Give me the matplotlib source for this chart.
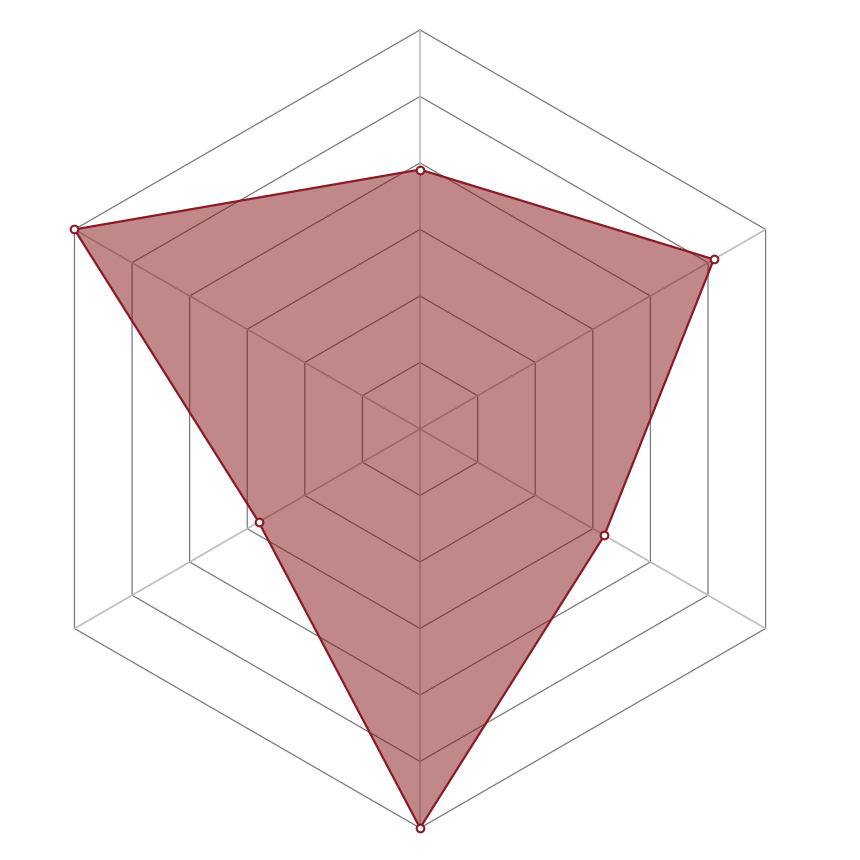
import numpy as np
import matplotlib.pyplot as plt

# eixos do radar (sem rotulos na figura original)
eixos = ['A', 'B', 'C', 'D', 'E', 'F']
valores = [3.9, 5.1, 3.2, 6.0, 2.8, 6.0]
niveis = [1, 2, 3, 4, 5, 6]
valor_max = 6

angulos = np.linspace(0, 2 * np.pi, len(eixos), endpoint=False)
angulos_fechado = np.append(angulos, angulos[0])
valores_fechado = valores + valores[:1]

fig = plt.figure(figsize=(8.6, 8.6), dpi=100)
ax = fig.add_axes([0.0244, 0.0372, 0.928, 0.928], projection='polar')
ax.set_theta_offset(np.pi / 2)
ax.set_theta_direction(-1)
ax.set_ylim(0, valor_max)
ax.grid(False)
ax.spines['polar'].set_visible(False)
ax.set_xticks([])
ax.set_yticks([])

# aneis hexagonais
for n in niveis:
    ax.plot(angulos_fechado, [n] * len(angulos_fechado), color='#7a7a7a', linewidth=0.9, zorder=1, clip_on=False)

# raios
for a in angulos:
    ax.plot([a, a], [0, valor_max], color='#bdbdbd', linewidth=1.2, zorder=1, clip_on=False)

# serie
ax.fill(angulos_fechado, valores_fechado, color='#851317', alpha=0.5, linewidth=0, zorder=2, clip_on=False)
ax.plot(angulos_fechado, valores_fechado, color='#8b1a24', linewidth=1.6, zorder=3, clip_on=False)
ax.plot(angulos, valores, linestyle='none', marker='o', markersize=5.5, clip_on=False,
        markerfacecolor='white', markeredgecolor='#8b1a24', markeredgewidth=1.5, zorder=4)

plt.savefig('out.png', dpi=100)
